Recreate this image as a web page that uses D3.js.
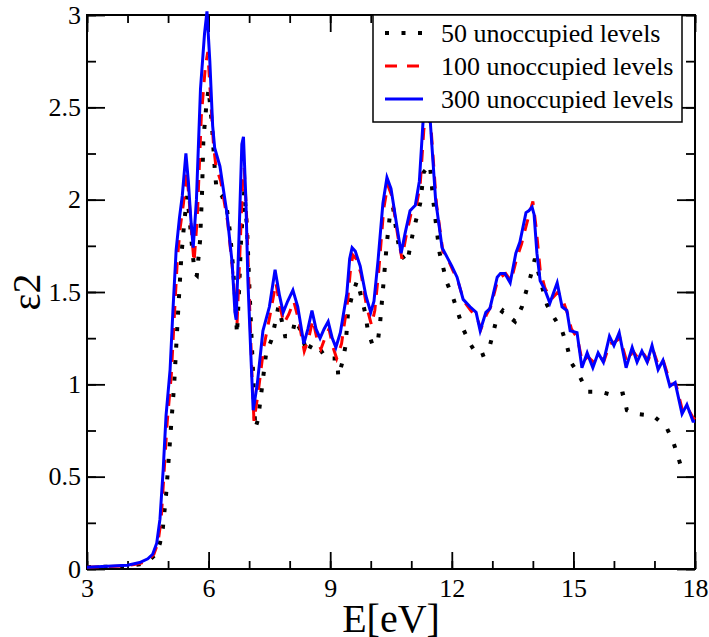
<!DOCTYPE html>
<meta charset="utf-8">
<title>epsilon2 vs energy</title>
<style>
    body { margin: 0; background: #fff; }
    svg text { font-family: "Liberation Serif", "Times New Roman", Times, serif; fill: #000; }
</style>
<body>
<script src="https://d3js.org/d3.v7.min.js"></script>
<script>

    var seriesNames = ["50 unoccupied levels", "100 unoccupied levels", "300 unoccupied levels"];
    var xTicks = [3, 6, 9, 12, 15, 18];
    var yTicks = [0, 0.5, 1, 1.5, 2, 2.5, 3];

    // [E (eV), eps2]
    var levels50 = [[3.0,0.01],[3.5,0.012],[4.0,0.015],[4.3,0.025],[4.5,0.04],[4.7,0.08],[4.8,0.14],[4.87,0.22],[4.95,0.4],[5.05,0.7],[5.15,1.0],[5.25,1.4],[5.33,1.7],[5.4,1.88],[5.47,2.02],[5.53,1.9],[5.6,1.72],[5.66,1.6],[5.71,1.59],[5.79,1.78],[5.84,2.05],[5.87,2.32],[5.94,2.5],[6.0,2.6],[6.08,2.41],[6.16,2.14],[6.2,2.05],[6.33,2.02],[6.45,1.95],[6.53,1.82],[6.6,1.64],[6.66,1.45],[6.7,1.27],[6.75,1.5],[6.8,1.78],[6.88,2.05],[6.95,1.84],[7.0,1.56],[7.07,1.2],[7.11,1.0],[7.15,0.76],[7.22,0.81],[7.32,0.99],[7.42,1.17],[7.55,1.24],[7.64,1.33],[7.72,1.42],[7.8,1.35],[7.89,1.26],[8.05,1.26],[8.14,1.35],[8.25,1.3],[8.43,1.17],[8.55,1.22],[8.65,1.2],[8.75,1.19],[8.9,1.14],[9.05,1.14],[9.17,1.14],[9.2,1.04],[9.3,1.12],[9.38,1.21],[9.44,1.39],[9.54,1.48],[9.66,1.56],[9.76,1.48],[9.86,1.39],[9.93,1.29],[10.05,1.21],[10.18,1.24],[10.23,1.33],[10.3,1.51],[10.4,1.77],[10.47,1.91],[10.55,1.96],[10.62,1.85],[10.72,1.71],[10.9,1.66],[11.04,1.82],[11.22,1.98],[11.31,2.15],[11.46,2.19],[11.54,2.0],[11.62,1.85],[11.7,1.71],[11.88,1.55],[12.03,1.47],[12.15,1.39],[12.28,1.3],[12.45,1.22],[12.65,1.15],[12.89,1.17],[13.0,1.26],[13.1,1.35],[13.26,1.4],[13.4,1.37],[13.56,1.34],[13.73,1.42],[13.83,1.5],[13.95,1.59],[14.05,1.68],[14.2,1.55],[14.35,1.43],[14.5,1.37],[14.72,1.29],[14.84,1.21],[14.94,1.12],[15.14,1.05],[15.34,0.96],[15.66,0.96],[16.0,0.94],[16.22,0.95],[16.32,0.86],[16.57,0.84],[16.97,0.83],[17.29,0.77],[17.46,0.69],[17.58,0.61],[17.7,0.52]];

    var levels100 = [[3.0,0.01],[3.5,0.013],[4.0,0.018],[4.3,0.03],[4.5,0.045],[4.65,0.08],[4.75,0.14],[4.83,0.27],[4.9,0.52],[4.98,0.8],[5.08,1.05],[5.15,1.35],[5.23,1.68],[5.3,1.85],[5.38,1.98],[5.46,2.15],[5.52,2.0],[5.58,1.82],[5.64,1.66],[5.72,1.9],[5.82,2.45],[5.92,2.72],[5.98,2.8],[6.05,2.55],[6.12,2.3],[6.18,2.18],[6.3,2.1],[6.47,1.88],[6.6,1.6],[6.67,1.4],[6.7,1.32],[6.77,1.7],[6.84,2.1],[6.88,2.17],[6.94,1.9],[7.0,1.5],[7.07,1.05],[7.12,0.8],[7.22,0.95],[7.36,1.2],[7.52,1.38],[7.66,1.55],[7.76,1.42],[7.86,1.33],[7.98,1.38],[8.1,1.45],[8.22,1.35],[8.36,1.18],[8.47,1.25],[8.57,1.35],[8.67,1.25],[8.77,1.19],[8.87,1.25],[8.97,1.3],[9.07,1.2],[9.16,1.14],[9.28,1.22],[9.43,1.45],[9.5,1.62],[9.56,1.7],[9.64,1.68],[9.76,1.6],[9.9,1.42],[10.02,1.32],[10.1,1.4],[10.2,1.62],[10.32,1.95],[10.42,2.08],[10.52,2.02],[10.67,1.8],[10.77,1.68],[10.87,1.8],[10.99,1.92],[11.12,1.96],[11.22,2.08],[11.31,2.38],[11.42,2.46],[11.49,2.38],[11.62,1.98],[11.78,1.72],[11.9,1.68],[12.02,1.62],[12.15,1.56],[12.3,1.45],[12.47,1.4],[12.62,1.36],[12.72,1.3],[12.86,1.38],[12.96,1.42],[13.14,1.57],[13.33,1.6],[13.46,1.56],[13.6,1.68],[13.72,1.76],[13.86,1.88],[14.0,1.99],[14.08,1.85],[14.18,1.62],[14.3,1.52],[14.45,1.46],[14.62,1.5],[14.75,1.45],[14.86,1.38],[14.95,1.3],[15.1,1.25],[15.22,1.12],[15.35,1.15],[15.5,1.12],[15.63,1.15],[15.76,1.13],[15.9,1.22],[16.02,1.23],[16.15,1.25],[16.32,1.12],[16.47,1.18],[16.6,1.14],[16.72,1.17],[16.84,1.13],[16.96,1.19],[17.1,1.1],[17.23,1.12],[17.4,1.0],[17.53,1.0],[17.7,0.85],[17.82,0.87],[17.95,0.82],[18.0,0.81]];

    var levels300 = [[3.0,0.01],[3.5,0.015],[4.0,0.02],[4.3,0.035],[4.5,0.055],[4.62,0.08],[4.72,0.14],[4.8,0.27],[4.88,0.54],[4.95,0.83],[5.05,1.08],[5.12,1.4],[5.2,1.73],[5.28,1.9],[5.35,2.02],[5.44,2.25],[5.5,2.1],[5.56,1.9],[5.62,1.74],[5.7,2.0],[5.8,2.6],[5.9,2.9],[5.96,3.02],[6.03,2.75],[6.1,2.4],[6.15,2.28],[6.28,2.18],[6.45,1.93],[6.58,1.66],[6.65,1.39],[6.68,1.35],[6.75,1.8],[6.82,2.3],[6.86,2.34],[6.92,2.0],[6.97,1.56],[7.05,1.12],[7.1,0.86],[7.2,1.0],[7.34,1.29],[7.5,1.42],[7.64,1.62],[7.75,1.48],[7.84,1.39],[7.95,1.45],[8.08,1.51],[8.2,1.42],[8.35,1.22],[8.45,1.3],[8.55,1.4],[8.65,1.3],[8.75,1.25],[8.85,1.3],[8.95,1.34],[9.05,1.25],[9.14,1.2],[9.25,1.28],[9.41,1.49],[9.48,1.68],[9.54,1.74],[9.62,1.72],[9.74,1.64],[9.88,1.48],[10.0,1.39],[10.08,1.45],[10.18,1.67],[10.3,1.98],[10.4,2.12],[10.5,2.06],[10.65,1.85],[10.75,1.71],[10.85,1.82],[10.97,1.94],[11.1,1.97],[11.2,2.1],[11.29,2.42],[11.4,2.5],[11.47,2.42],[11.6,2.0],[11.76,1.74],[11.88,1.69],[12.0,1.64],[12.13,1.58],[12.28,1.46],[12.45,1.42],[12.6,1.39],[12.7,1.29],[12.84,1.39],[12.94,1.41],[13.12,1.58],[13.2,1.6],[13.31,1.6],[13.44,1.55],[13.58,1.71],[13.68,1.77],[13.83,1.93],[13.9,1.94],[13.98,1.96],[14.03,1.92],[14.1,1.71],[14.18,1.56],[14.3,1.51],[14.42,1.44],[14.6,1.55],[14.72,1.42],[14.84,1.4],[14.92,1.29],[15.09,1.28],[15.21,1.09],[15.34,1.17],[15.48,1.09],[15.61,1.17],[15.74,1.12],[15.89,1.26],[16.0,1.21],[16.13,1.28],[16.3,1.09],[16.45,1.2],[16.57,1.12],[16.69,1.18],[16.82,1.12],[16.94,1.21],[17.09,1.08],[17.21,1.13],[17.38,0.99],[17.51,1.01],[17.68,0.84],[17.8,0.89],[17.95,0.8],[18.0,0.8]];

    var w = 709,
        h = 637,
        pLeft = 87,
        pRight = 695,
        pTop = 15,
        pBottom = 569;

    var serif = "'Liberation Serif', 'Times New Roman', Times, serif";

    var x = d3.scaleLinear().domain([3, 18]).range([pLeft, pRight]);
    var y = d3.scaleLinear().domain([0, 3]).range([pBottom, pTop]);

    var svg = d3.select("body").append("svg")
        .attr("width", w)
        .attr("height", h);

    // ticks on all four sides, pointing inward
    var xMinor = d3.range(3, 18.01, 1),
        yMinor = d3.range(0, 3.01, 0.25);

    svg.append("g")
        .attr("transform", "translate(0," + pBottom + ")")
        .call(d3.axisBottom(x).tickValues(xMinor).tickSize(-8).tickFormat(""));
    svg.append("g")
        .attr("transform", "translate(0," + pBottom + ")")
        .call(d3.axisBottom(x).tickValues(xTicks).tickSize(-17).tickPadding(10).tickFormat(d3.format("d")));
    svg.append("g")
        .attr("transform", "translate(0," + pTop + ")")
        .call(d3.axisTop(x).tickValues(xMinor).tickSize(-8).tickFormat(""));
    svg.append("g")
        .attr("transform", "translate(0," + pTop + ")")
        .call(d3.axisTop(x).tickValues(xTicks).tickSize(-17).tickFormat(""));

    svg.append("g")
        .attr("transform", "translate(" + pLeft + ",0)")
        .call(d3.axisLeft(y).tickValues(yMinor).tickSize(-9).tickFormat(""));
    svg.append("g")
        .attr("transform", "translate(" + pLeft + ",0)")
        .call(d3.axisLeft(y).tickValues(yTicks).tickSize(-18).tickPadding(6).tickFormat(function(d) { return d; }));
    svg.append("g")
        .attr("transform", "translate(" + pRight + ",0)")
        .call(d3.axisRight(y).tickValues(yMinor).tickSize(-9).tickFormat(""));
    svg.append("g")
        .attr("transform", "translate(" + pRight + ",0)")
        .call(d3.axisRight(y).tickValues(yTicks).tickSize(-18).tickFormat(""));

    svg.selectAll("g").attr("font-family", serif);
    svg.selectAll(".domain").remove();
    svg.selectAll(".tick line").attr("stroke", "#000").attr("stroke-width", 1.8);
    svg.selectAll(".tick text")
        .style("font-family", serif)
        .style("font-size", "26px")
        .attr("fill", "#000");

    svg.append("rect")
        .attr("x", pLeft)
        .attr("y", pTop)
        .attr("width", pRight - pLeft)
        .attr("height", pBottom - pTop)
        .attr("fill", "none")
        .attr("stroke", "#000")
        .attr("stroke-width", 2);

    var line = d3.line()
        .x(function(d) { return x(d[0]); })
        .y(function(d) { return y(d[1]); });

    var styles = [
        { data: levels50, color: "#000", width: 4, dash: "4 12.5" },
        { data: levels100, color: "#ff0000", width: 3, dash: "12 10" },
        { data: levels300, color: "#0000ff", width: 3, dash: null }
    ];

    styles.forEach(function(s) {
        svg.append("path")
            .datum(s.data)
            .attr("d", line)
            .attr("fill", "none")
            .attr("stroke", s.color)
            .attr("stroke-width", s.width)
            .attr("stroke-dasharray", s.dash);
    });

    // legend
    var lg = svg.append("g");
    lg.append("rect")
        .attr("x", 373)
        .attr("y", 15)
        .attr("width", 309)
        .attr("height", 107)
        .attr("fill", "#fff")
        .attr("stroke", "#000")
        .attr("stroke-width", 1.5);

    styles.forEach(function(s, i) {
        var cy = 33 + i * 33;
        lg.append("line")
            .attr("x1", 385)
            .attr("x2", 423)
            .attr("y1", cy)
            .attr("y2", cy)
            .attr("stroke", s.color)
            .attr("stroke-width", s.width)
            .attr("stroke-dasharray", s.dash);
        lg.append("text")
            .attr("x", 441)
            .attr("y", cy + 9)
            .style("font-family", serif)
            .style("font-size", "26px")
            .text(seriesNames[i]);
    });

    // axis titles
    svg.append("text")
        .attr("x", (pLeft + pRight) / 2)
        .attr("y", 632)
        .attr("text-anchor", "middle")
        .style("font-family", serif)
        .style("font-size", "40px")
        .text("E[eV]");

    svg.append("text")
        .attr("transform", "translate(40," + (pTop + pBottom) / 2 + ")rotate(-90)")
        .attr("text-anchor", "middle")
        .style("font-family", serif)
        .style("font-size", "40px")
        .text("ε2");

</script>
